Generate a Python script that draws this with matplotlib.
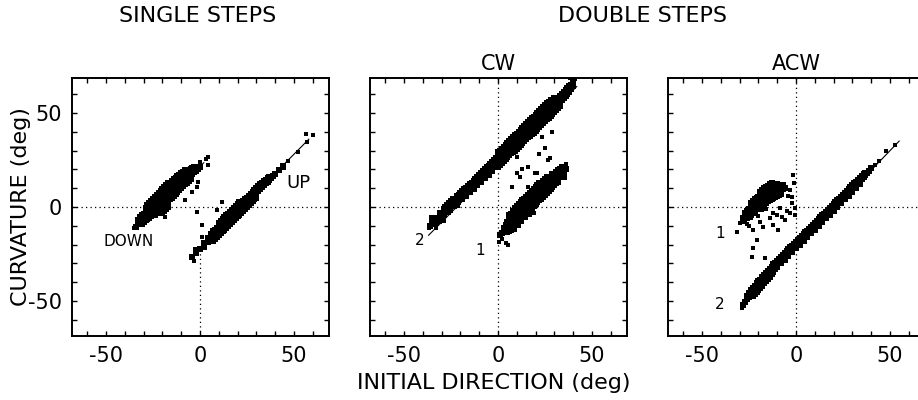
import matplotlib
matplotlib.use("Agg")
import matplotlib.pyplot as plt
from matplotlib.ticker import FixedLocator, FuncFormatter

plt.rcParams['font.family'] = ['DejaVu Sans']

# ---------------- data (degrees) ----------------
# Each cloud: list of (initial direction, [curvature values at that direction])
single_down = [
    (-34, [-10.5]), (-33, [-9, -7]), (-32, [-8, -5.5]), (-31, [-7, -4.5, -9]),
    (-30, [-6, -3.5, -8]), (-29, [-5, -2, -7, -0.5]), (-28, [-4, -1, -6.5, 1]),
    (-27, [-3.5, 0, -6, 2]), (-26, [-2.5, 1, -5, 3]), (-25, [-1.5, 2, -4.5, 4]),
    (-24, [-0.5, 3, -4, 5.5]), (-23, [0.5, 4, -3, 6.5]), (-22, [1.5, 5, -2, 7.5]),
    (-21, [2.5, 6, -1, 8.5]), (-20, [3.5, 7, 0, 9.5, -3]), (-19, [4.5, 8, 1, 10.5, -2]),
    (-18, [5.5, 9, 2, 11.5, -1]), (-17, [6.5, 10, 3, 12.5, 0]), (-16, [7.5, 11, 4, 13]),
    (-15, [8.5, 12, 5, 14]), (-14, [9.5, 13, 6, 15]), (-13, [10.5, 14, 7, 15.5]),
    (-12, [11.5, 14.5, 8, 16.5]), (-11, [12, 15.5, 9, 17]), (-10, [13, 16, 10, 18]),
    (-9, [13.5, 17, 11, 18.5]), (-8, [14.5, 17.5, 12, 19.5]), (-7, [15.5, 18.5, 13]),
    (-6, [16, 19, 14]), (-5, [17, 20, 15]), (-4, [17.5, 20.5]), (-3, [18.5, 21]),
    (-2, [19, 21.5]), (-1, [20]), (0, [21]),
]
single_down_scatter = [
    (4.5, [26.7]), (3, [25.5]), (0, [24]), (4.4, [22.3]), (-1.8, [-2.5, 10.8]),
    (0.9, [-9.6]), (-8, [3.7]), (-4.4, [8.1]), (-0.9, [13.5]), (-18.6, [-5.1]),
    (-29.3, [-0.7]), (-32, [-7]), (-35, [-11]),
]

single_up = [
    (-4, [-26.5]), (-2, [-24.5]), (0, [-22.5]),
    (2, [-21, -19]), (4, [-18.5, -16.5]), (5, [-17.5]),
    (6, [-16.5, -14.5]), (7, [-15.5, -13, -18]), (8, [-14.5, -12, -17]),
    (9, [-13.5, -11, -16]), (10, [-12.5, -10, -15, -8.5]),
    (11, [-11.5, -9, -14, -7.5]), (12, [-10.5, -8, -13, -6.5]),
    (13, [-9.5, -7, -12, -5.5]), (14, [-8.5, -6, -11, -4.5]), (15, [-7.5, -5, -10, -3.5]),
    (16, [-6.5, -4, -9, -2.5]), (17, [-5.5, -3, -8, -1.5]), (18, [-4.5, -2, -7, -0.5]),
    (19, [-3.5, -1, -6, 0.5]), (20, [-2.5, 0, -5, 1.5]), (21, [-1.5, 1, -4, 2.5]),
    (22, [-0.5, 2, -3]), (23, [0.5, 3, -2]), (24, [1.5, 4, -1]), (25, [2.5, 5, 0]),
    (26, [3.5, 6, 1]), (27, [4.5, 7, 2]), (28, [5.5, 8, 3]), (29, [6.5, 9, 4]),
    (30, [7.5, 10, 5]), (31, [8.5, 11]), (32, [9.5, 12]), (33, [10.5, 13]),
    (34, [11.5, 14]), (35, [12.5, 14.5]), (36, [13.5, 15.5]), (37, [14.5, 16]),
    (38, [15.5]), (39, [16.5]), (40, [17.5]), (42, [19.5]), (44, [21, 22]),
]
single_up_scatter = [
    (-2.7, [-22.2]), (0.9, [-9.7, -16]), (5.4, [-16.8]), (9, [-1.6]), (11.6, [2.9]),
    (47, [24.5]), (52, [29]), (56.5, [38.7]), (57, [34.5]), (60, [38]), (-3, [-28.5]),
]

cw_2 = [
    (-36, [-10]), (-35, [-9, -6]), (-33, [-8.5, -6]), (-31, [-5.5, -3]),
    (-30, [-4.5, -7]), (-29, [-3.5, -1]), (-28, [-2.5, 0]), (-27, [-1.5, 1]),
    (-26, [-0.5, 2]), (-25, [0.5, 3]), (-24, [1.5, 4]), (-23, [2, 4.5]),
    (-22, [3, 6, 1]), (-21, [4, 6.5]), (-20, [5, 7.5]), (-19, [6, 8.5, 4]),
    (-18, [7, 9.5]), (-17, [8, 10, 6]), (-16, [9, 11]), (-15, [10, 12, 8]),
    (-14, [10.5, 13]), (-13, [11.5, 14, 9.5]), (-12, [12.5, 15]), (-11, [13.5, 16, 11.5]),
    (-10, [14.5, 17]), (-9, [15.5, 18, 13.5]), (-8, [16.5, 19]), (-7, [17.5, 20, 15.5]),
    (-6, [18.5, 21]), (-5, [19, 22, 17]), (-4, [20, 23]), (-3, [21, 24, 19]),
    (-2, [22, 25]), (-1, [23, 26, 21]), (0, [24, 27, 21.5, 29]), (1, [25, 28, 22.5, 30]),
    (2, [26, 29, 23.5, 31]), (3, [27, 30, 24.5, 32]), (4, [28, 31, 25.5, 33]),
    (5, [29, 32, 26.5, 34]), (6, [30, 33, 27.5, 35]), (7, [31, 34, 28.5, 36]),
    (8, [31.5, 34.5, 29, 37]), (9, [32.5, 35.5, 30, 38]), (10, [33.5, 36.5, 31, 39]),
    (11, [34.5, 37.5, 32, 40]), (12, [35.5, 38.5, 33, 41]), (13, [36.5, 39.5, 34, 42]),
    (14, [37.5, 40.5, 35, 43]), (15, [38.5, 41.5, 36, 44]), (16, [39.5, 42.5, 37, 45]),
    (17, [40, 43, 37.5, 46]), (18, [41, 44, 38.5, 47]), (19, [42, 45, 39.5, 48]),
    (20, [43, 46, 40.5, 49]), (21, [44, 47, 41.5, 50]), (22, [45, 48, 42.5, 51]),
    (23, [46, 49, 43.5, 52]), (24, [47, 50, 44.5, 53]), (25, [48, 51, 45.5, 54]),
    (26, [49, 52, 46.5, 55]), (27, [50, 53, 47.5, 56]), (28, [51, 54, 48.5, 57]),
    (29, [52, 55, 49.5]), (30, [53, 56, 50.5, 58]), (31, [54, 57, 51.5]),
    (32, [55, 58, 52.5]), (33, [56, 59, 53.5]), (34, [57, 60]), (35, [58, 61]),
    (36, [59, 62]), (37, [60, 63]), (38, [61, 64]), (39, [62.5, 65]), (40, [64, 67]),
]
cw_2_scatter = [
    (-37, [-11]), (-33, [-11]), (-31, [-8]), (-29, [-7.5]), (-28, [-5]), (-26, [-3]),
    (-25, [-2]), (-23, [0]), (-21, [2]), (41, [68]), (38.5, [68.5]),
    (9.9, [26.8, 17.9]), (11.7, [16.1]), (16.1, [10.8, 21.4]), (7.3, [10.8]),
    (20.6, [17.9]), (26.8, [25]), (25, [31.2]), (28.6, [40]), (23.2, [37.4]),
    (1, [28.6]), (27.7, [25.9]), (19.7, [17.9]), (13, [20]), (22, [28]),
]

cw_1 = [
    (1, [-15]), (2, [-14]), (3, [-13, -11]), (4, [-12, -9.5]),
    (5, [-11, -8, -13.5]), (6, [-10, -7, -13, -4]), (7, [-9, -6, -12, -3.5]),
    (8, [-7.5, -4.5, -10.5, -2]), (9, [-6.5, -3.5, -9.5, -0.5]),
    (10, [-5.5, -2.5, -8.5, 0.5]), (11, [-4.5, -1.5, -7.5, 1.5]),
    (12, [-3.5, -0.5, -6.5, 2.5]), (13, [-2.5, 0.5, -5.5, 3.5]),
    (14, [-1.5, 1.5, -4.5, 4.5]), (15, [-0.5, 2.5, -3.5, 5.5]),
    (16, [0.5, 3.5, -2.5, 6.5]), (17, [1.5, 4.5, -1.5, 7.5]),
    (18, [2.5, 5.5, -0.5, 8.5]), (19, [3.5, 6.5, 0.5, 9.5]),
    (20, [4.5, 7.5, 1.5, 10.5]), (21, [5.5, 8.5, 2.5, 11.5]), (22, [6.5, 9.5, 3.5, 12.5]),
    (23, [7.5, 10.5, 4.5, 13]), (24, [8.5, 11.5, 5.5, 14]), (25, [9.5, 12.5, 6.5, 15]),
    (26, [10.5, 13.5, 7.5, 16]), (27, [11.5, 14.5, 8.5]), (28, [12.5, 15.5, 9.5]),
    (29, [13.5, 16.5, 10.5]), (30, [14.5, 17.5, 11.5]), (31, [15.5, 18.5, 12.5]),
    (32, [16.5, 19.5, 13.5]), (33, [17, 20]), (34, [18, 21]), (35, [19, 16]), (36, [20]),
]
cw_1_scatter = [
    (2, [-17]), (4, [-19]), (5.5, [-20.2]), (9, [-12]), (11, [-10]), (13, [-8]),
    (15, [-6]), (17, [-4.5]), (19, [-3]), (28, [18]), (0.5, [-18.5]), (36.5, [23]),
]

acw_2 = [
    (-28, [-52]), (-27, [-50.5]), (-26, [-49, -47]), (-25, [-48, -45.5]),
    (-24, [-46.5, -44]), (-23, [-45, -43, -47.5]), (-22, [-44, -42, -46]),
    (-21, [-43, -40.5, -45]), (-20, [-41.5, -39.5, -44]), (-19, [-40.5, -38.5, -43]),
    (-18, [-39.5, -37, -42]), (-17, [-38.5, -36, -40.5]), (-16, [-37, -35, -39.5]),
    (-15, [-36, -34, -38]), (-14, [-35, -33, -37]), (-13, [-34, -32, -35.5]),
    (-12, [-32.5, -30.5, -34.5]), (-11, [-31.5, -29.5, -33]), (-10, [-30.5, -28.5, -32]),
    (-9, [-29.5, -27.5]), (-8, [-28.5, -26.5, -30]), (-7, [-27, -25.5]),
    (-6, [-26, -24.5, -28]), (-5, [-25, -23.5]), (-4, [-24, -22.5, -26]), (-3, [-23, -21.5]),
    (-2, [-22, -20.5, -24]), (-1, [-21, -19.5]), (0, [-20, -18.5, -22]), (1, [-19, -17.5]),
    (2, [-18, -16.5, -20]), (3, [-17, -15.5]), (4, [-16, -14.5, -18]), (5, [-15, -13.5]),
    (6, [-14, -12.5, -16]), (7, [-13, -11.5]), (8, [-12, -10.5, -14]), (9, [-11, -9.5]),
    (10, [-10, -8.5, -12]), (11, [-9, -7.5]), (12, [-8, -6.5, -10]), (13, [-7, -5.5]),
    (14, [-6, -4.5, -8]), (15, [-5, -3.5]), (16, [-4, -2.5, -6]), (17, [-3, -1.5]),
    (18, [-2, -0.5, -4]), (19, [-1, 0.5]), (20, [0, 1.5, -2]), (21, [1, 2.5]),
    (22, [2, 3.5, 0]), (23, [3, 4.5]), (24, [4, 5.5, 2]), (25, [5, 6.5]),
    (26, [6, 7.5, 4]), (27, [7, 8.5]), (28, [8, 9.5, 6]), (29, [9, 10.5]),
    (30, [10, 11.5, 8]), (31, [11, 12.5]), (32, [12, 13.5, 10]), (33, [13, 14.5]),
    (34, [14, 15.5, 12]), (35, [15, 16.5]), (36, [16, 17.5]), (37, [17, 18]),
    (38, [18]), (39, [19]), (40, [20.5]),
]
acw_2_scatter = [(-29, [-53.5]), (42, [22.5]), (44, [24.5]), (48, [30]), (53, [33])]

acw_1 = [
    (-28, [-6]), (-27, [-5, -3]), (-26, [-4, -6, -2]), (-25, [-3, -5, -1]),
    (-24, [-2, -4, 0, 2]), (-23, [-1, -3, 1, 3]), (-22, [0, -2, 2, 4]),
    (-21, [1, -1, 3, 5]), (-20, [1.5, -0.5, 3.5, 5.5]),
    (-19, [2, 0, 4, 6, 8]), (-18, [3, 1, 5, 7, 9]), (-17, [3.5, 1.5, 5.5, 7.5, 10]),
    (-16, [4, 2, 6, 8, 10.5]), (-15, [5, 3, 7, 9, 11]), (-14, [5.5, 3.5, 7.5, 9.5, 12]),
    (-13, [6, 4, 8, 10, 12.5]), (-12, [7, 5, 9, 11]), (-11, [7.5, 5.5, 9.5, 11.5]),
    (-10, [8, 6, 10, 12]), (-9, [8.5, 6.5, 10.5]), (-8, [9, 7, 11]), (-7, [9.5, 11.5]),
    (-6, [10]),
]
acw_1_scatter = [
    (-31.5, [-13.1]), (-29.8, [-8.7]), (-22.7, [-12.2, -22]), (-17.4, [-10.5]),
    (-12.1, [-9.6]), (-20.9, [-17.6]), (-23.6, [-26.4]), (-16.5, [-27.3]),
    (-7.6, [-5.2]), (-3.2, [-3.4]), (-0.5, [-0.7, -4]), (-9.4, [-12.2]),
    (-1.4, [17]), (-1, [13]), (-2.3, [5.5]), (-8.5, [-0.7]), (-5, [-2]),
    (-14, [-6]), (-19, [-8]), (-25, [-10]), (-2, [2]), (-4, [6]),
    (-28, [-8]), (-26, [-9]), (-24, [-6]), (-20, [-5]), (-18, [-1.5]), (-16, [-1]),
    (-12, [-3]), (-10, [-4]), (-6, [-7]), (-3, [9]), (-27, [-7.5]),
]

# fitted regression lines: (x0, x1), (y0, y1)
fit_down = ((-33, 2), (-9, 23.5))
fit_up = ((-4, 58), (-26.5, 36))
fit_cw_2 = ((-37, 42), (-15, 64))
fit_cw_1 = ((0, 36), (-16, 22))
fit_acw_2 = ((-28, 55), (-51, 35))

tick_vals = [-50, 0, 50]
minor_vals = list(range(-60, 61, 10))
lim = (-68.5, 68.5)


def expand(cloud):
    xs, ys = [], []
    for x, yl in cloud:
        for y in yl:
            xs.append(x)
            ys.append(y)
    return xs, ys


W, H = 918, 400
fig = plt.figure(figsize=(W / 100, H / 100), dpi=100)
fig.patch.set_facecolor('white')

panel_left = [71.5, 369.5, 667.5]
pw, ph = 257, 258
pbottom = 400 - 336

fmt = FuncFormatter(lambda v, p: f"{int(v)}")
axes = []
for i, left in enumerate(panel_left):
    ax = fig.add_axes([left / W, pbottom / H, pw / W, ph / H])
    ax.set_xlim(lim)
    ax.set_ylim(lim)
    ax.xaxis.set_major_locator(FixedLocator(tick_vals))
    ax.yaxis.set_major_locator(FixedLocator(tick_vals))
    ax.xaxis.set_minor_locator(FixedLocator(minor_vals))
    ax.yaxis.set_minor_locator(FixedLocator(minor_vals))
    ax.tick_params(which='both', direction='in', top=True, right=True,
                   length=3.5, width=1.0, labelsize=15, pad=7)
    ax.xaxis.set_major_formatter(fmt)
    if i == 0:
        ax.yaxis.set_major_formatter(fmt)
    else:
        ax.tick_params(labelleft=False)
    for s in ax.spines.values():
        s.set_linewidth(1.4)
    axes.append(ax)

dot = (0, (1, 2.6))
# reference dotted lines
axes[0].axhline(0, ls=dot, lw=0.9, color='k', zorder=1)
axes[0].plot([0, 0], [lim[0], -22], ls=dot, lw=0.9, color='k', zorder=1)
for ax in axes[1:]:
    ax.axhline(0, ls=dot, lw=0.9, color='k', zorder=1)
    ax.axvline(0, ls=dot, lw=0.9, color='k', zorder=1)


def draw(ax, cloud, scatter, fit=None):
    xs, ys = expand(cloud)
    ax.scatter(xs, ys, s=17, marker='s', color='k', linewidths=0, zorder=3)
    xs, ys = expand(scatter)
    ax.scatter(xs, ys, s=6, marker='s', color='k', linewidths=0, zorder=3)
    if fit is not None:
        ax.plot(fit[0], fit[1], color='k', lw=0.8, zorder=4)


draw(axes[0], single_down, single_down_scatter, fit_down)
draw(axes[0], single_up, single_up_scatter, fit_up)
draw(axes[1], cw_2, cw_2_scatter, fit_cw_2)
draw(axes[1], cw_1, cw_1_scatter, fit_cw_1)
draw(axes[2], acw_2, acw_2_scatter, fit_acw_2)
draw(axes[2], acw_1, acw_1_scatter)

lab = dict(fontsize=11, ha='center', va='center')
axes[0].text(-38, -18.5, "DOWN", **lab)
axes[0].text(52.5, 13, "UP", fontsize=13, ha='center', va='center')
axes[1].text(-41.5, -18, "2", **lab)
axes[1].text(-9.5, -23, "1", **lab)
axes[2].text(-40.5, -14, "1", **lab)
axes[2].text(-40.5, -52, "2", **lab)

axes[1].set_title("CW", fontsize=15, pad=6)
axes[2].set_title("ACW", fontsize=15, pad=6)

fig.text(198 / W, 1 - 16 / H, "SINGLE STEPS", fontsize=16, ha='center', va='center')
fig.text(643 / W, 1 - 16 / H, "DOUBLE STEPS", fontsize=16, ha='center', va='center')
fig.text(494 / W, 1 - 383 / H, "INITIAL DIRECTION (deg)", fontsize=16, ha='center', va='center')
fig.text(21 / W, 1 - 207 / H, "CURVATURE (deg)", fontsize=16, ha='center', va='center',
         rotation=90)

fig.savefig("out.png", dpi=100)
